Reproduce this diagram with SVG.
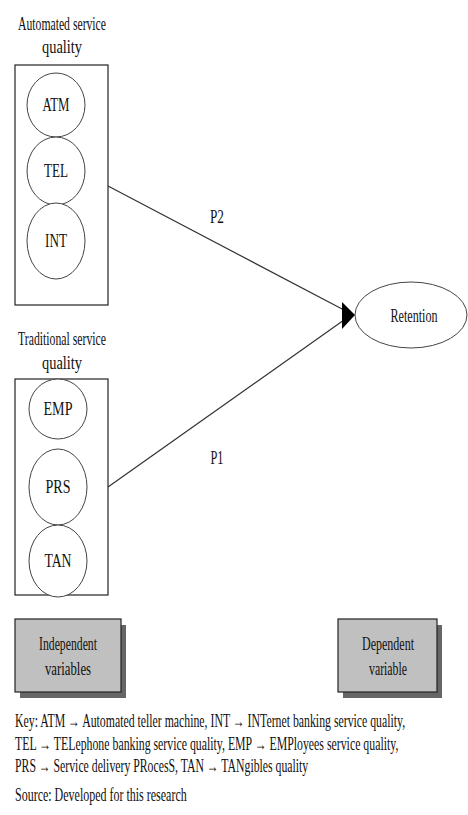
<svg xmlns="http://www.w3.org/2000/svg" width="468" height="815" viewBox="0 0 468 815">
  <style>
    text { font-family: "Liberation Serif", "Times New Roman", serif; font-size: 18px; fill: #111; }
    .mid { text-anchor: middle; }
    .note { font-size: 15px; }
    .frame { fill: none; stroke: #222; stroke-width: 1.2; }
    .circ { fill: #fff; stroke: #444; stroke-width: 1; }
    .link { stroke: #333; stroke-width: 1.2; fill: none; }
    .legend { fill: #c0c0c0; stroke: #222; stroke-width: 1.2; }
    .shadow { fill: #666; }
  </style>

  <!-- Automated service quality group -->
  <g id="automated">
    <text class="mid" x="62" y="30" textLength="88" lengthAdjust="spacingAndGlyphs">Automated service</text>
    <text class="mid" x="62" y="53" textLength="40" lengthAdjust="spacingAndGlyphs">quality</text>
    <rect class="frame" x="15" y="65" width="93" height="240"/>
    <g id="atm">
      <ellipse class="circ" cx="56" cy="105" rx="29" ry="32"/>
      <text class="mid" x="56" y="111" textLength="27" lengthAdjust="spacingAndGlyphs">ATM</text>
    </g>
    <g id="tel">
      <ellipse class="circ" cx="56" cy="171" rx="29" ry="34"/>
      <text class="mid" x="56" y="177" textLength="24" lengthAdjust="spacingAndGlyphs">TEL</text>
    </g>
    <g id="int">
      <ellipse class="circ" cx="56" cy="241" rx="29" ry="38"/>
      <text class="mid" x="56" y="247" textLength="22" lengthAdjust="spacingAndGlyphs">INT</text>
    </g>
  </g>

  <!-- Traditional service quality group -->
  <g id="traditional">
    <text class="mid" x="62" y="345" textLength="88" lengthAdjust="spacingAndGlyphs">Traditional service</text>
    <text class="mid" x="62" y="369" textLength="40" lengthAdjust="spacingAndGlyphs">quality</text>
    <rect class="frame" x="15" y="379" width="93" height="216"/>
    <g id="emp">
      <ellipse class="circ" cx="58" cy="409" rx="29" ry="30"/>
      <text class="mid" x="58" y="415" textLength="29" lengthAdjust="spacingAndGlyphs">EMP</text>
    </g>
    <g id="prs">
      <ellipse class="circ" cx="58" cy="487" rx="29" ry="38"/>
      <text class="mid" x="58" y="493" textLength="25" lengthAdjust="spacingAndGlyphs">PRS</text>
    </g>
    <g id="tan">
      <ellipse class="circ" cx="58" cy="561" rx="29" ry="36"/>
      <text class="mid" x="58" y="567" textLength="27" lengthAdjust="spacingAndGlyphs">TAN</text>
    </g>
  </g>

  <!-- Dependent variable -->
  <g id="retention">
    <ellipse class="circ" cx="411" cy="315" rx="56" ry="33" stroke="#222"/>
    <text class="mid" x="414" y="322" textLength="47" lengthAdjust="spacingAndGlyphs">Retention</text>
  </g>

  <!-- Connectors -->
  <g id="connectors">
    <line class="link" x1="108" y1="186" x2="344" y2="310"/>
    <line class="link" x1="108" y1="487" x2="344" y2="320"/>
    <polygon points="342,302 355,315 342,329" fill="#000"/>
    <text class="mid" x="217" y="223" textLength="14" lengthAdjust="spacingAndGlyphs">P2</text>
    <text class="mid" x="217" y="464" textLength="13" lengthAdjust="spacingAndGlyphs">P1</text>
  </g>

  <!-- Legend boxes -->
  <g id="independent">
    <rect class="shadow" x="20" y="625" width="106" height="73"/>
    <rect class="legend" x="15" y="619" width="106" height="73"/>
    <text class="mid" x="68" y="650" textLength="58" lengthAdjust="spacingAndGlyphs">Independent</text>
    <text class="mid" x="68" y="675" textLength="46" lengthAdjust="spacingAndGlyphs">variables</text>
  </g>
  <g id="dependent">
    <rect class="shadow" x="343" y="625" width="99" height="73"/>
    <rect class="legend" x="338" y="619" width="99" height="73"/>
    <text class="mid" x="388" y="650" textLength="52" lengthAdjust="spacingAndGlyphs">Dependent</text>
    <text class="mid" x="388" y="675" textLength="38" lengthAdjust="spacingAndGlyphs">variable</text>
  </g>

  <!-- Key and source, set in a tall condensed face -->
  <g id="key" transform="translate(15,0) scale(0.85,1.2)">
    <text class="note" x="0" y="606" textLength="459" lengthAdjust="spacingAndGlyphs">Key: ATM → Automated teller machine, INT → INTernet banking service quality,</text>
    <text class="note" x="0" y="625" textLength="451" lengthAdjust="spacingAndGlyphs">TEL → TELephone banking service quality, EMP → EMPloyees service quality,</text>
    <text class="note" x="0" y="643.3" textLength="345" lengthAdjust="spacingAndGlyphs">PRS → Service delivery PRocesS, TAN → TANgibles quality</text>
    <text class="note" x="0" y="667.5" textLength="202" lengthAdjust="spacingAndGlyphs">Source: Developed for this research</text>
  </g>
</svg>
